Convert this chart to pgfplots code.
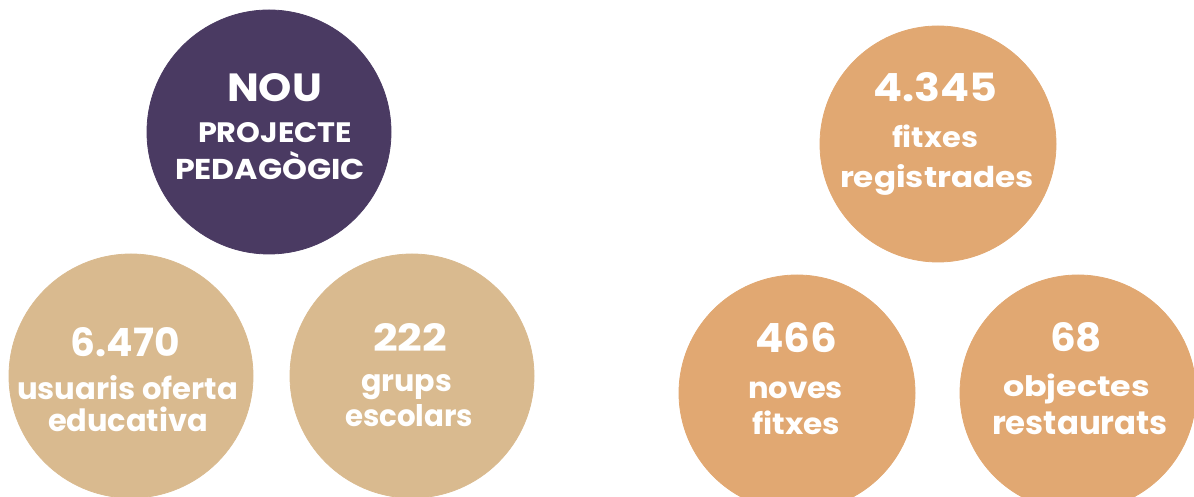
\documentclass[border=0pt]{standalone}
\usepackage{pgfplots}
\pgfplotsset{compat=1.18}
\usepackage{fontspec}
\setmainfont{Poppins}
\definecolor{purp}{RGB}{74,58,98}
\definecolor{tanc}{RGB}{217,186,143}
\definecolor{oran}{RGB}{225,168,114}
% \lbl{x}{baseline y}{width}{height or !}{text}
\newcommand{\lbl}[5]{\node[anchor=base, inner sep=0pt] at (axis cs:#1,#2) {\textcolor{white}{\resizebox{#3}{#4}{\bfseries\fontsize{20}{20}\selectfont #5}}};}
\begin{document}
\begin{tikzpicture}
\begin{axis}[
  x=0.5pt, y=0.5pt, y dir=reverse,
  xmin=0, xmax=1194, ymin=0, ymax=497,
  hide axis, clip=true, set layers=standard,
]
% circles: centre x, centre y (pixels)
\addplot[only marks, mark=*, mark size=61pt, color=purp] coordinates {(269,132)};
\addplot[only marks, mark=*, mark size=61pt, color=tanc] coordinates {(131,376) (412,376)};
\addplot[only marks, mark=*, mark size=59pt, color=oran] coordinates {(938,144) (797,393) (1078,393)};
% texts
\begin{pgfonlayer}{axis foreground}
\lbl{274.5}{102}{47.5pt}{14pt}{NOU}
\lbl{275}{143}{77pt}{10pt}{PROJECTE}
\lbl{270}{180}{95pt}{14pt}{PEDAGÒGIC}
\lbl{125.5}{357}{54.5pt}{14.5pt}{6.470}
\lbl{127.5}{400}{110.5pt}{12pt}{usuaris oferta}
\lbl{128}{432}{80pt}{12.3pt}{educativa}
\lbl{410}{352}{37pt}{14pt}{222}
\lbl{406.5}{392}{45.5pt}{8.5pt}{grups}
\lbl{409}{427}{64pt}{11pt}{escolars}
\lbl{935}{102}{62pt}{14.5pt}{4.345}
\lbl{935}{148}{43pt}{11.3pt}{fitxes}
\lbl{937}{188}{97pt}{11.5pt}{registrades}
\lbl{796}{353}{41pt}{15pt}{466}
\lbl{795.5}{399}{47.5pt}{8.3pt}{noves}
\lbl{796}{435}{44pt}{11.8pt}{fitxes}
\lbl{1076}{352}{26pt}{14.5pt}{68}
\lbl{1076.5}{397}{73.5pt}{11.3pt}{objectes}
\lbl{1080}{435}{88pt}{11.3pt}{restaurats}
\end{pgfonlayer}
\end{axis}
\pgfresetboundingbox
\useasboundingbox (current axis.south west) rectangle (current axis.north east);
\end{tikzpicture}
\end{document}
